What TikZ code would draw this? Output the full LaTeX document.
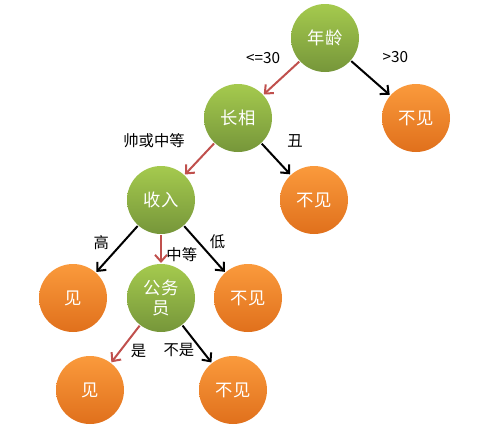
\documentclass[tikz,border=0pt]{standalone}
\usepackage{fontspec}
\setmainfont{Noto Sans CJK SC}
\usepackage{tikz}
\usepackage{xcolor}
\usetikzlibrary{arrows,arrows.meta,positioning}

\definecolor{leafTop}{HTML}{FA9A3C}
\definecolor{leafBot}{HTML}{E0701C}
\definecolor{testTop}{HTML}{A5CA4E}
\definecolor{testBot}{HTML}{76963A}
\definecolor{yesRed}{HTML}{C0504D}

\begin{document}
\begin{tikzpicture}[->,>={Straight Barb[length=5pt,width=9pt]},line width=1.5pt,auto,on grid,align=center]

    \tikzstyle{test}=[circle,minimum size=51pt,top color=testTop,bottom color=testBot,text=white,font=\fontsize{13}{15}\selectfont]
    \tikzstyle{leaf}=[circle,minimum size=51pt,top color=leafTop,bottom color=leafBot,text=white,font=\fontsize{13}{15}\selectfont]
    \tikzstyle{lbl}=[text=black,font=\fontsize{11.5}{13}\selectfont]
    \tikzstyle{yes}=[draw=yesRed]

    \useasboundingbox (0,0) rectangle (364.5pt,-322.5pt);

    \node[test] (0) at (243.75pt,-28.5pt)          {年龄};
    \node[test] (1) [below left=60pt and 65.25pt of 0]  {长相};
    \node[leaf] (2) [below right=60pt and 68.25pt of 0] {不见};
    \node[test] (3) [below left=61.5pt and 57.75pt of 1] {收入};
    \node[leaf] (4) [below right=61.5pt and 57pt of 1]   {不见};
    \node[leaf] (5) [below left=73.5pt and 66pt of 3]    {见};
    \node[test] (6) [below=73.5pt of 3]                  {公务\\员};
    \node[leaf] (7) [below right=73.5pt and 65.25pt of 3] {不见};
    \node[leaf] (8) [below left=69pt and 53.25pt of 6]   {见};
    \node[leaf] (9) [below right=69pt and 54pt of 6]     {不见};

    \path (0) edge [yes] node [lbl,swap,xshift=3pt,yshift=7pt] {<=30}  (1)
          (0) edge node [lbl,xshift=5pt,yshift=7.5pt] {>30}              (2)
          (1) edge [yes] node [lbl,swap,xshift=-7pt,yshift=4.5pt] {帅或中等} (3)
          (1) edge node [lbl,xshift=4.5pt,yshift=4.5pt] {丑}               (4)
          (3) edge node [lbl,swap,xshift=-2pt,yshift=-4.5pt] {高}          (5)
          (3) edge [yes] node [lbl,yshift=-4pt] {中等}       (6)
          (3) edge node [lbl,yshift=-4pt] {低}               (7)
          (6) edge [yes] node [lbl,yshift=4pt] {是}         (8)
          (6) edge node [lbl,swap,xshift=2pt,yshift=4.5pt] {不是}        (9)
    ;
\end{tikzpicture}
\end{document}
